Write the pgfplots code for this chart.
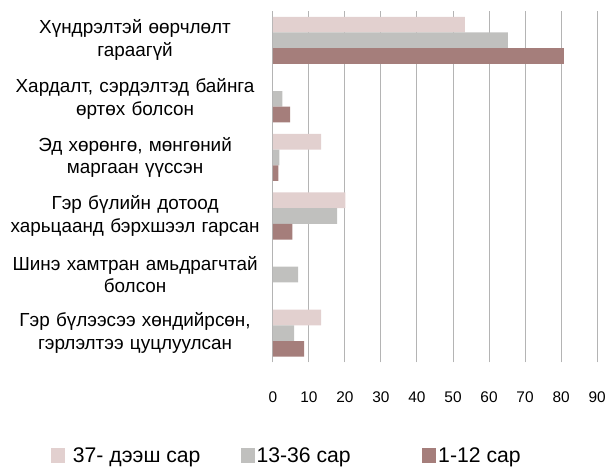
\documentclass[border=0pt]{standalone}
\usepackage{fontspec}
\setmainfont{Liberation Sans}
\usepackage{pgfplots}
\pgfplotsset{compat=1.18}
\definecolor{cA}{HTML}{E2D0CF}
\definecolor{cB}{HTML}{C0C0BE}
\definecolor{cC}{HTML}{A57E7B}
\definecolor{gridc}{HTML}{B4B4B4}
\pgfplotsset{sqleg/.style={legend image code/.code={\fill[##1] (0bp,-7.5bp) rectangle (14bp,7.5bp);}}}
\begin{document}
\begin{tikzpicture}
\begin{axis}[
  name=ax,
  scale only axis,
  width=324.7bp, height=352bp,
  xbar, bar width=15.7bp,
  xmin=0, xmax=90, ymin=-0.5, ymax=5.5,
  xtick={0,10,...,90},
  ytick={0,...,5},
  yticklabels={
    {Гэр бүлээсээ хөндийрсөн,\\гэрлэлтээ цуцлуулсан},
    {Шинэ хамтран амьдрагчтай\\болсон},
    {Гэр бүлийн дотоод\\харьцаанд бэрхшээл гарсан},
    {Эд хөрөнгө, мөнгөний\\маргаан үүссэн},
    {Хардалт, сэрдэлтэд байнга\\өртөх болсон},
    {Хүндрэлтэй өөрчлөлт\\гараагүй}},
  yticklabel style={text width=255bp, align=center, font=\fontsize{19}{23}\selectfont, xshift=-7bp},
  xticklabel style={font=\fontsize{15.5}{18}\selectfont, yshift=-26bp},
  /pgf/number format/assume math mode=true,
  xmajorgrids,
  major grid style={gridc, line width=1bp},
  axis line style={draw=none},
  major tick length=0pt,
  legend columns=3,
  legend style={draw=none, fill=none, at={(-0.6855,-0.266)}, anchor=west,
    font=\fontsize{21.3}{24}\selectfont, inner sep=0pt,
    /tikz/every even column/.append style={column sep=0pt}},
  sqleg,
]
\addplot[fill=cA, draw=none, bar shift=15.7bp]
  coordinates {(53.3,5) (13.4,3) (20.1,2) (13.4,0)};
\addlegendentry{\makebox[172bp][l]{\hspace{6bp}37- дээш сар}}
\addplot[fill=cB, draw=none, bar shift=0bp]
  coordinates {(65.2,5) (2.6,4) (1.8,3) (17.8,2) (7.0,1) (5.9,0)};
\addlegendentry{\makebox[164bp][l]{13-36 сар}}
\addplot[fill=cC, draw=none, bar shift=-15.7bp]
  coordinates {(80.8,5) (4.8,4) (1.5,3) (5.4,2) (8.7,0)};
\addlegendentry{1-12 сар}
\end{axis}
\path ([xshift=-273.3bp,yshift=-103bp]ax.south west) rectangle ([xshift=11bp,yshift=11bp]ax.north east);
\end{tikzpicture}
\end{document}
